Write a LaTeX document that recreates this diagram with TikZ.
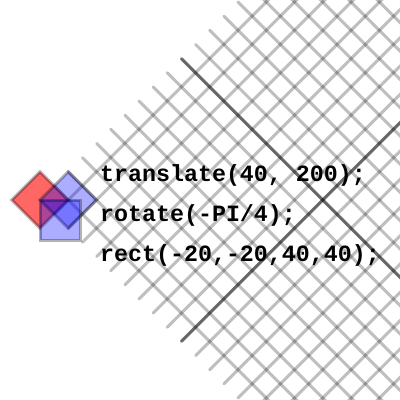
\documentclass[tikz,border=0pt]{standalone}
\usepackage{fontspec}
\newfontfamily\codefont{Liberation Mono}
\usetikzlibrary{positioning}
\definecolor{sqred}{HTML}{FF0000}
\definecolor{sqblue}{HTML}{0000FF}

\begin{document}
\begin{tikzpicture}[x=1pt,y=-1pt,
  gridline/.style={black,opacity=0.25,line width=3pt,line cap=round},
  axisline/.style={black,opacity=0.45,line width=3pt,line cap=round},
  box/.style={draw=black,draw opacity=0.3,line width=3pt},
  codeline/.style={anchor=base west,inner sep=0pt,font=\codefont\bfseries\fontsize{23.3}{28}\selectfont}]
\useasboundingbox[fill=white] (0,0) rectangle (400,400);
\clip (0,0) rectangle (400,400);

% Rotated frame: grid, axes at 200, squares
\begin{scope}[shift={(40,200)},rotate=45]
  \foreach \i in {20,40,...,420} {
    \draw[gridline] (\i,0) -- (\i,440);
    \draw[gridline] (0,\i) -- (440,\i);
  }
  \draw[axisline] (200,0) -- (200,440);
  \draw[axisline] (0,200) -- (440,200);
  \filldraw[box,fill=sqred,fill opacity=0.6] (-20,-20) rectangle (20,20);
  \filldraw[box,fill=sqblue,fill opacity=0.32] (0,0) rectangle (40,40);
\end{scope}

% Unrotated square
\filldraw[box,fill=sqblue,fill opacity=0.32] (40,200) rectangle (80,240);

% Code lines
\node[codeline] (translateline) at (100,181) {translate(40, 200);};
\node[codeline] (rotateline) at (100,221) {rotate(-PI/4);};
\node[codeline] (rectline) at (100,261) {rect(-20,-20,40,40);};

\end{tikzpicture}
\end{document}
